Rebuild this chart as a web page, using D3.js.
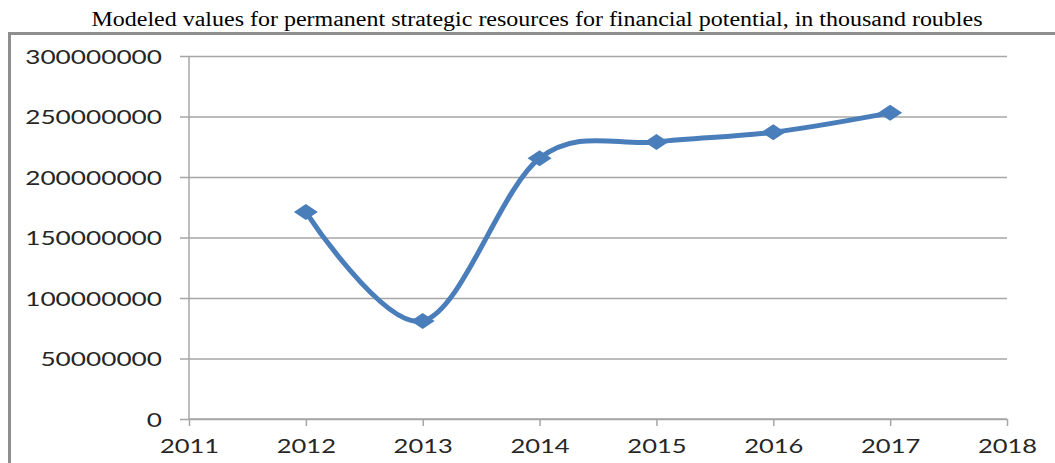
<!DOCTYPE html>
<html>
<head>
<meta charset="utf-8">
<script src="https://cdn.jsdelivr.net/npm/d3@7"></script>
<style>
  body { margin: 0; background: #fff; }
  .axis path { display: none; }
  .axis line { stroke: #a6a6a6; stroke-width: 1.5; }
  .axis text { font-family: Lato, "DejaVu Sans", sans-serif; font-size: 20px; fill: #262626; }
</style>
</head>
<body>
<div id="chart"></div>
<script>
// values
const years = [2012, 2013, 2014, 2015, 2016, 2017];
const values = [171000000, 81000000, 215500000, 229000000, 237000000, 253000000];
const xTicks = [2011, 2012, 2013, 2014, 2015, 2016, 2017, 2018];
const yTicks = [0, 50000000, 100000000, 150000000, 200000000, 250000000, 300000000];
const title = "Modeled values for permanent strategic resources for financial potential, in thousand roubles";

const W = 1055, H = 463;
const margin = { top: 56, right: 48, bottom: 44, left: 189 },
  width = W - margin.left - margin.right,
  height = H - margin.top - margin.bottom;

const svg = d3.select("#chart").append("svg")
  .attr("width", W)
  .attr("height", H);

// outer frame (only left and top visible)
svg.append("rect")
  .attr("x", 9.5).attr("y", 33.5)
  .attr("width", 1200).attr("height", 600)
  .attr("fill", "none")
  .attr("stroke", "#8f8f8f")
  .attr("stroke-width", 3);

svg.append("text")
  .attr("x", 537)
  .attr("y", 26)
  .attr("text-anchor", "middle")
  .attr("textLength", 891)
  .attr("lengthAdjust", "spacingAndGlyphs")
  .style("font-family", "'Liberation Serif', 'Times New Roman', serif")
  .style("font-size", "20px")
  .style("fill", "#000")
  .text(title);

const canvas = svg.append("g")
  .attr("transform", "translate(" + margin.left + "," + margin.top + ")");

const xScale = d3.scaleLinear().domain([2011, 2018]).range([0, width]);
const yScale = d3.scaleLinear().domain([0, 300000000]).range([height, 0]);

const digitW = 15.2;

// y axis with gridlines
const yAxis = d3.axisLeft(yScale)
  .tickValues(yTicks)
  .tickSize(-width)
  .tickSizeOuter(0)
  .tickFormat(d3.format("d"));

const gy = canvas.append("g").attr("class", "axis y").call(yAxis);
gy.selectAll(".tick line").attr("x1", -9);
gy.selectAll(".tick text")
  .attr("x", -27)
  .attr("dy", "0.36em")
  .attr("textLength", function(d) { return String(d).length * digitW; })
  .attr("lengthAdjust", "spacingAndGlyphs");

// vertical axis line
canvas.append("line")
  .attr("x1", 0).attr("x2", 0)
  .attr("y1", 0).attr("y2", height)
  .attr("stroke", "#a6a6a6").attr("stroke-width", 1.5);

// x axis
const xAxis = d3.axisBottom(xScale)
  .tickValues(xTicks)
  .tickSize(7)
  .tickSizeOuter(0)
  .tickFormat(d3.format("d"));

const gx = canvas.append("g")
  .attr("class", "axis x")
  .attr("transform", "translate(0," + height + ")")
  .call(xAxis);
gx.selectAll(".tick text")
  .attr("y", 34)
  .attr("dy", 0)
  .attr("textLength", function(d) { return String(d).length * 14.8; })
  .attr("lengthAdjust", "spacingAndGlyphs");
gx.append("line")
  .attr("x1", 0).attr("x2", width)
  .attr("stroke", "#a6a6a6").attr("stroke-width", 1.5);

const data = years.map(function(y, i) { return { year: y, value: values[i] }; });

const line = d3.line()
  .x(function(d) { return xScale(d.year); })
  .y(function(d) { return yScale(d.value); })
  .curve(d3.curveCardinal.tension(0));

canvas.append("path")
  .datum(data)
  .attr("fill", "none")
  .attr("stroke", "#4a7ebb")
  .attr("stroke-width", 5)
  .attr("stroke-linecap", "round")
  .attr("d", line);

// diamond markers, stretched like the original
const diamond = function() {
  const p = d3.path();
  p.moveTo(-12, 0); p.lineTo(0, -8); p.lineTo(12, 0); p.lineTo(0, 8); p.closePath();
  return p.toString();
};

canvas.selectAll(".dot")
  .data(data)
  .enter().append("path")
  .attr("class", "dot")
  .attr("d", diamond)
  .attr("transform", function(d) { return "translate(" + xScale(d.year) + "," + yScale(d.value) + ")"; })
  .attr("fill", "#4a7ebb");
</script>
</body>
</html>
